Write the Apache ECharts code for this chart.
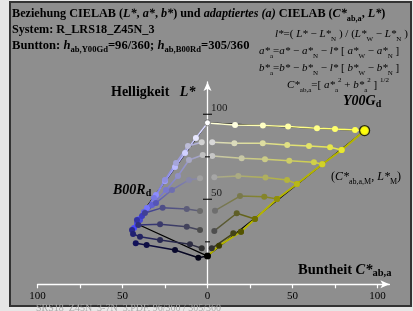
<!DOCTYPE html>
<html>
<head>
<meta charset="utf-8">
<script src="https://cdn.jsdelivr.net/npm/echarts@6/dist/echarts.min.js"></script>
<style>
html, body { margin: 0; padding: 0; background: #e6e6e6; }
#chart { width: 413px; height: 311px; }
</style>
</head>
<body>
<div id="chart"></div>
<script>
// Y00Gd half (C*ab,a > 0): one row per grey step, light to dark
var yRowC = [
    [0, 16.2, 32.6, 47.4, 64.4, 75.0, 86.8, 92.4],
    [2.8, 15.8, 32.5, 46.9, 59.7, 72.1, 78.9],
    [2.8, 20.1, 33.8, 48.1, 62.6, 67.5],
    [4.0, 18.1, 34.1, 46.8, 52.6],
    [4.4, 19.1, 33.4, 40.9],
    [4.0, 17.2, 27.9],
    [2.5, 15.2, 19.7]
];
var yRowL = [
    [94.9, 93.7, 93.4, 92.8, 91.8, 91.4, 90.8, 90.4],
    [83.5, 82.9, 82.9, 81.9, 81.4, 80.6, 79.0],
    [75.5, 74.1, 73.5, 72.7, 71.8, 70.6],
    [63.0, 63.7, 62.8, 61.4, 59.0],
    [43.3, 51.9, 51.5, 50.2],
    [31.4, 41.8, 38.4],
    [21.2, 30.0, 30.9]
];
// chromatic series Y00Gd -> N
var yEdgeC = [92.4, 78.9, 67.5, 52.6, 40.9, 27.9, 19.7, 6.8, 0];
var yEdgeL = [90.4, 79.0, 70.6, 59.0, 50.2, 38.4, 30.9, 22.7, 16.6];

// B00Rd half (C*ab,a < 0)
var bRowC = [
    [0, -6.8, -13.2, -19.1, -25.0, -30.3, -35.6, -40.3, -43.2],
    [-3.4, -11.5, -18.5, -25.0, -31.5, -37.4, -41.5],
    [-2.8, -10.9, -17.4, -24.4, -32.6, -39.7],
    [-4.4, -10.9, -20.9, -30.3, -38.5],
    [-4.4, -12.2, -26.4, -36.8, -41.5],
    [-4.4, -12.2, -27.9, -40.7, -44.4],
    [-3.4, -10.3, -27.9, -39.7, -43.8],
    [0, -5.4, -19.1, -35.8, -42.2]
];
var bRowL = [
    [94.9, 86.1, 77.2, 69.0, 60.8, 52.5, 44.9, 38.4, 33.1],
    [83.5, 81.4, 71.4, 61.4, 50.8, 42.5, 35.5],
    [76.1, 73.1, 63.7, 55.5, 46.6, 37.8],
    [62.4, 61.4, 55.5, 47.8, 40.2],
    [43.1, 44.3, 45.1, 41.9, 37.8],
    [31.9, 33.9, 35.3, 34.9, 31.9],
    [21.2, 23.5, 26.1, 28.0, 29.6],
    [16.6, 15.6, 20.2, 23.1, 24.1]
];

var pW = [0, 95], pN = [0, 16.6], pY = [92.4, 90.4], pB = [-42.6, 36.1];

var yGrey = ['#ffffff', '#d8d8d8', '#c6c6c6', '#a6a6a6', '#6e6e6e', '#4e4e4e', '#323232'];
var yEnd = ['#ffff30', '#e8e830', '#d2d228', '#b8b818', '#909008', '#707000', '#545400'];
var bGrey = ['#ffffff', '#d2d2d2', '#c0c0c0', '#a0a0a0', '#6a6a6a', '#4c4c4c', '#303030', '#000000'];
var bEnd = ['#4848ff', '#4c4cee', '#4848d8', '#3c3cc0', '#3232a4', '#28288a', '#202072', '#12125a'];

var xTicks = [-100, -75, -50, -25, 0, 25, 50, 75, 100];
var xLabels = [-100, -50, 0, 50, 100];
var yTicks = [25, 50, 75, 100];
var yLabels = [50, 100];

var FONT = 'Liberation Serif';

function hex(c) { return [parseInt(c.substr(1, 2), 16), parseInt(c.substr(3, 2), 16), parseInt(c.substr(5, 2), 16)]; }
function mix(a, b, t) {
    var p = hex(a), q = hex(b);
    return 'rgb(' + p.map(function (v, i) { return Math.round(v + (q[i] - v) * t); }).join(',') + ')';
}

function rowSeries(cs, ls, grey, end, left) {
    var n = cs.length;
    var data = cs.map(function (c, i) {
        return { value: [c, ls[i]], itemStyle: { color: mix(grey, end, n > 1 ? i / (n - 1) : 0) } };
    });
    var stops = [{ offset: 0, color: mix(grey, end, 0.15) }, { offset: 1, color: mix(grey, end, 0.85) }];
    if (left) stops = [{ offset: 0, color: stops[1].color }, { offset: 1, color: stops[0].color }];
    return {
        type: 'line', data: data, symbol: 'circle', symbolSize: 6, z: 3,
        lineStyle: { width: 1.5, color: { type: 'linear', x: 0, y: 0, x2: 1, y2: 0, colorStops: stops } },
        silent: true, animation: false
    };
}

var series = [];
series.push({
    type: 'line', data: [pW, pY, pN], symbol: 'none', z: 2,
    lineStyle: { color: '#000', width: 1.2 }, silent: true, animation: false
});
series.push({
    type: 'line', data: [pW, pB, pN], symbol: 'none', z: 2,
    lineStyle: { color: '#000', width: 1.2 }, silent: true, animation: false
});
series.push({
    type: 'line', symbol: 'circle', symbolSize: 6, z: 3, silent: true, animation: false,
    data: yEdgeC.map(function (c, i) {
        return { value: [c, yEdgeL[i]], itemStyle: { color: mix('#ffff00', '#202000', i / (yEdgeC.length - 1)) } };
    }),
    lineStyle: { width: 2, color: '#b4b400' }
});
for (var i = 0; i < yRowC.length; i++) series.push(rowSeries(yRowC[i], yRowL[i], yGrey[i], yEnd[i], false));
for (var j = 0; j < bRowC.length; j++) series.push(rowSeries(bRowC[j], bRowL[j], bGrey[j], bEnd[j], true));

series.push({ type: 'scatter', data: [pY], symbolSize: 10, z: 6, silent: true,
    itemStyle: { color: '#ffff00', borderColor: '#000', borderWidth: 1.3 } });
series.push({ type: 'scatter', data: [pW], symbolSize: 6, z: 6, silent: true,
    itemStyle: { color: '#fff', borderColor: '#000', borderWidth: 0.6 } });
series.push({ type: 'scatter', data: [pN], symbolSize: 7, z: 6, silent: true, itemStyle: { color: '#000' } });
// black ticks across the L* axis, labels right of it
series.push({
    type: 'scatter', symbol: 'rect', z: 7, silent: true, clip: false,
    data: yTicks.map(function (v) {
        return { value: [0, v], symbolSize: v % 50 === 0 ? [9, 1.3] : [5, 1.3],
                 label: { show: yLabels.indexOf(v) >= 0 } };
    }),
    itemStyle: { color: '#000' },
    label: { position: 'right', distance: -1, offset: [0, -6], formatter: function (p) { return p.value[1]; },
             color: '#000', fontFamily: FONT, fontSize: 11 }
});

function richSet(size, weight, color) {
    return {
        n: { fontSize: size, fontWeight: weight, lineHeight: 17, fontFamily: FONT, color: color },
        i: { fontSize: size, fontWeight: weight, fontStyle: 'italic', lineHeight: 17, fontFamily: FONT, color: color },
        s: { fontSize: size - 4, fontWeight: weight, lineHeight: size - 4, verticalAlign: 'bottom', fontFamily: FONT, color: color },
        p: { fontSize: size - 4, fontWeight: weight, lineHeight: size - 4, verticalAlign: 'top', fontFamily: FONT, color: color }
    };
}
function txt(x, y, text, size, weight, color) {
    return { type: 'text', x: x, y: y, z: 10, silent: true,
        style: { text: text, rich: richSet(size, weight, color), verticalAlign: 'middle', align: 'left' } };
}

var graphics = [
    { type: 'rect', shape: { x: 10, y: 2, width: 401, height: 304 }, z: -10, silent: true,
      style: { fill: '#8e8e8e', stroke: '#333', lineWidth: 2 } },
    txt(12, 14, '{n|Beziehung CIELAB (}{i|L*}{n|, }{i|a*}{n|, }{i|b*}{n|) und }{i|adaptiertes (a)}{n| CIELAB (}{i|C*}{s|ab,a}{n|, }{i|L*}{n|)}', 12.2, 'bold', '#fff'),
    txt(12, 30, '{n|System: R_LRS18_Z45N_3}', 12.2, 'bold', '#fff'),
    txt(12, 46, '{n|Buntton: }{i|h}{s|ab,Y00Gd}{n|=96/360; }{i|h}{s|ab,B00Rd}{n|=305/360}', 12.6, 'bold', '#fff'),
    txt(275, 34, '{i|l*}{n|=( }{i|L*}{n| − }{i|L*}{s|N}{n| ) / (}{i|L*}{s|W}{n| − }{i|L*}{s|N}{n| )}', 11, 'normal', '#fff'),
    txt(259, 51, '{i|a*}{s|a}{n|=}{i|a*}{n| − }{i|a*}{s|N}{n| − }{i|l*}{n| [ }{i|a*}{s|W}{n| − }{i|a*}{s|N}{n| ]}', 11, 'normal', '#fff'),
    txt(259, 68, '{i|b*}{s|a}{n|=}{i|b*}{n| − }{i|b*}{s|N}{n| − }{i|l*}{n| [ }{i|b*}{s|W}{n| − }{i|b*}{s|N}{n| ]}', 11, 'normal', '#fff'),
    txt(287, 85, '{i|C*}{s|ab,a}{n|=[ }{i|a*}{s|a}{p|2}{n| + }{i|b*}{s|a}{p|2}{n| ] }{p|1/2}', 11, 'normal', '#fff'),
    txt(343, 101, '{i|Y00G}{s|d}', 14, 'bold', '#ffff00'),
    txt(111, 92, '{n|Helligkeit   }{i|L*}', 14, 'bold', '#fff'),
    txt(113, 190, '{i|B00R}{s|d}', 14, 'bold', '#1e1eff'),
    txt(331, 177, '{n|(}{i|C*}{s|ab,a,M}{n|, }{i|L*}{s|M}{n|)}', 12, 'normal', '#fff'),
    txt(298, 270, '{n|Buntheit }{i|C*}{s|ab,a}', 14.5, 'bold', '#fff'),
    { type: 'text', x: 36, y: 313, z: 10, silent: true,
      style: { text: 'SRS18_Z45N_3-7N_3.PDF, 96/360 / 305/360', fill: '#a8a8a8', font: '10px ' + FONT, verticalAlign: 'bottom' } }
];

var chart = echarts.init(document.getElementById('chart'), null, { renderer: 'canvas' });
chart.setOption({
    animation: false,
    backgroundColor: 'transparent',
    grid: { left: 37.5, right: 23.6, top: 82, bottom: 26.7 },
    xAxis: {
        type: 'value', min: -100, max: 107,
        axisLine: { show: true, onZero: true, lineStyle: { color: '#fff', width: 1.3 }, symbol: ['none', 'arrow'], symbolSize: [6, 9] },
        axisTick: { show: true, customValues: xTicks, length: 4, lineStyle: { color: '#fff', width: 1.2 } },
        axisLabel: { customValues: xLabels, formatter: function (v) { return String(Math.abs(v)); },
                     color: '#000', fontFamily: FONT, fontSize: 11, margin: 6 },
        splitLine: { show: false }
    },
    yAxis: {
        type: 'value', min: 0, max: 119,
        axisLine: { show: true, onZero: true, lineStyle: { color: '#fff', width: 1.3 }, symbol: ['none', 'arrow'], symbolSize: [6, 9] },
        axisTick: { show: false },
        axisLabel: { show: false },
        splitLine: { show: false }
    },
    graphic: graphics,
    series: series
});
</script>
</body>
</html>
